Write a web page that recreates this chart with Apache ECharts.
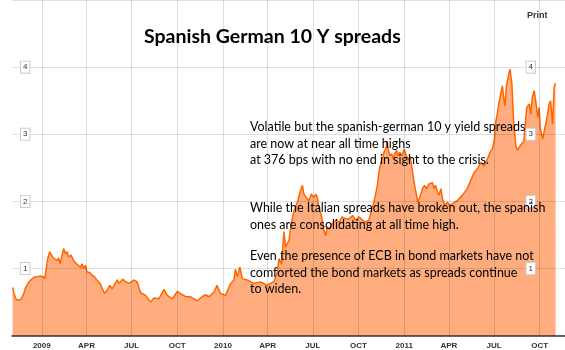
<!DOCTYPE html>
<html>
<head>
<meta charset="utf-8">
<script src="https://cdn.jsdelivr.net/npm/echarts@6/dist/echarts.min.js"></script>
<style>
  html, body { margin: 0; padding: 0; background: #fff; }
  #chart { width: 565px; height: 350px; }
</style>
</head>
<body>
<div id="chart"></div>
<script>
// Spain - Germany 10y spread, in percentage points
const dates = [
  '2008-11-03','2008-11-07','2008-11-11','2008-11-15','2008-11-20','2008-11-26','2008-11-29',
  '2008-12-02','2008-12-06','2008-12-10','2008-12-16','2008-12-23','2008-12-29',
  '2009-01-03','2009-01-07','2009-01-10','2009-01-13','2009-01-17','2009-01-20','2009-01-24','2009-01-27',
  '2009-02-01','2009-02-04','2009-02-07','2009-02-11','2009-02-14','2009-02-18','2009-02-21','2009-02-24',
  '2009-03-01','2009-03-06','2009-03-12','2009-03-16','2009-03-20','2009-03-23','2009-03-27','2009-03-30',
  '2009-04-02','2009-04-08','2009-04-12','2009-04-17','2009-04-22','2009-04-28',
  '2009-05-03','2009-05-07','2009-05-13','2009-05-18','2009-05-23',
  '2009-06-02','2009-06-06','2009-06-13','2009-06-20','2009-06-27',
  '2009-07-05','2009-07-12','2009-07-19','2009-07-29',
  '2009-08-08','2009-08-15','2009-08-25',
  '2009-09-04','2009-09-11','2009-09-21',
  '2009-10-01','2009-10-07','2009-10-18','2009-10-28',
  '2009-11-03','2009-11-10','2009-11-20','2009-11-27',
  '2009-12-04','2009-12-14','2009-12-20','2009-12-27',
  '2010-01-06','2010-01-16','2010-01-23','2010-01-26','2010-01-30',
  '2010-02-04','2010-02-09','2010-02-19',
  '2010-03-04','2010-03-18','2010-03-31',
  '2010-04-14','2010-04-20','2010-04-24','2010-04-29',
  '2010-05-04','2010-05-07','2010-05-14','2010-05-19','2010-05-24','2010-05-31',
  '2010-06-06','2010-06-10','2010-06-13','2010-06-18','2010-06-23','2010-06-28',
  '2010-07-03','2010-07-07','2010-07-10','2010-07-13','2010-07-17','2010-07-20','2010-07-23','2010-07-27','2010-07-30',
  '2010-08-04','2010-08-09','2010-08-16','2010-08-23','2010-08-29',
  '2010-09-05','2010-09-12','2010-09-19','2010-09-25',
  '2010-10-02','2010-10-09','2010-10-15','2010-10-22','2010-10-27',
  '2010-11-01','2010-11-04','2010-11-08','2010-11-11','2010-11-15','2010-11-18','2010-11-21','2010-11-25','2010-11-28','2010-11-30',
  '2010-12-03','2010-12-07','2010-12-10','2010-12-13','2010-12-17','2010-12-19','2010-12-23','2010-12-28',
  '2011-01-01','2011-01-04','2011-01-09','2011-01-13','2011-01-15','2011-01-19','2011-01-22','2011-01-26','2011-01-28','2011-01-31',
  '2011-02-03','2011-02-07','2011-02-11','2011-02-15','2011-02-20','2011-02-23','2011-02-27',
  '2011-03-02','2011-03-05','2011-03-09','2011-03-12','2011-03-16','2011-03-19','2011-03-24','2011-03-29',
  '2011-04-03','2011-04-09','2011-04-18','2011-04-28',
  '2011-05-08','2011-05-15','2011-05-22','2011-05-29',
  '2011-06-04','2011-06-11','2011-06-18','2011-06-23','2011-06-28',
  '2011-07-02','2011-07-04','2011-07-08','2011-07-11','2011-07-15','2011-07-18','2011-07-20','2011-07-23','2011-07-26','2011-07-30',
  '2011-08-02','2011-08-04','2011-08-06','2011-08-08','2011-08-10','2011-08-14','2011-08-17','2011-08-20','2011-08-24','2011-08-30',
  '2011-09-05','2011-09-10','2011-09-13','2011-09-16','2011-09-20','2011-09-23','2011-09-27','2011-09-30',
  '2011-10-02','2011-10-07','2011-10-10','2011-10-13','2011-10-17','2011-10-20','2011-10-23','2011-10-27','2011-10-30',
  '2011-11-02'
];

const spreads = [
  0.72,0.60,0.53,0.51,0.54,0.63,0.71,
  0.75,0.80,0.83,0.87,0.88,0.89,
  0.88,0.85,1.00,1.15,1.25,1.21,1.16,1.17,
  1.12,1.16,1.07,1.20,1.30,1.22,1.25,1.17,
  1.20,1.12,1.07,1.05,1.02,1.07,1.00,1.05,
  0.95,0.94,0.90,0.88,0.83,0.78,
  0.70,0.63,0.68,0.75,0.70,
  0.83,0.78,0.84,0.80,0.78,
  0.83,0.80,0.64,0.60,
  0.50,0.56,0.55,
  0.69,0.60,0.55,
  0.66,0.63,0.58,0.58,
  0.55,0.52,0.58,0.61,
  0.58,0.65,0.75,0.63,
  0.60,0.77,0.83,0.99,0.88,
  1.02,0.85,0.83,
  0.78,0.80,0.75,
  0.81,0.93,1.15,1.07,
  1.55,1.32,1.42,1.69,1.86,1.99,
  2.16,2.24,2.11,2.06,2.01,2.11,
  2.06,2.11,2.06,1.91,1.82,1.72,1.57,1.49,1.62,
  1.59,1.67,1.72,1.69,1.77,
  1.74,1.74,1.79,1.72,
  1.77,1.72,1.69,1.72,1.86,
  1.99,2.09,2.24,2.43,2.58,2.63,2.73,2.78,2.90,2.78,
  2.68,2.71,2.63,2.71,2.76,2.68,2.73,2.68,
  2.78,2.71,2.61,2.68,2.58,2.38,2.24,2.09,1.99,2.04,
  2.09,2.19,2.24,2.19,2.26,2.24,2.28,
  2.19,2.24,2.14,2.09,2.19,2.04,1.94,1.99,
  1.94,1.97,2.01,2.09,
  2.19,2.31,2.43,2.49,
  2.58,2.53,2.64,2.73,2.79,
  2.93,3.17,3.32,3.47,3.62,3.72,3.57,3.42,3.72,3.87,
  3.97,3.99,3.76,3.42,3.13,2.83,2.76,2.80,2.81,2.90,
  3.40,3.45,3.30,3.55,3.65,3.50,3.25,3.40,
  3.10,2.93,2.95,3.15,3.30,3.45,3.50,3.15,3.69,
  3.76
];

const quarterTicks = [
  '2009-01-01','2009-04-01','2009-07-01','2009-10-01',
  '2010-01-01','2010-04-01','2010-07-01','2010-10-01',
  '2011-01-01','2011-04-01','2011-07-01','2011-10-01'
];
const quarterNames = ['', 'APR', 'JUL', 'OCT'];

const noteLines1 = [
  'Volatile but the spanish-german 10 y yield spreads',
  'are now at near all time highs',
  'at 376 bps with no end in sight to the crisis.'
];
const noteLines2 = [
  'While the Italian spreads have broken out, the spanish',
  'ones are consolidating at all time high.'
];
const noteLines3 = [
  'Even the presence of ECB in bond markets have not',
  'comforted the bond markets as spreads continue',
  'to widen.'
];

const toTime = s => {
  const p = s.split('-').map(Number);
  return Date.UTC(p[0], p[1] - 1, p[2]);
};

const chart = echarts.init(document.getElementById('chart'), null, { renderer: 'canvas' });

const yLabel = {
  inside: true,
  fontSize: 8,
  fontFamily: 'Liberation Sans',
  color: '#333',
  backgroundColor: '#fff',
  borderColor: '#ccc',
  borderWidth: 1,
  padding: [2, 2, 1, 2],
  showMinLabel: false,
  showMaxLabel: false
};

const noteStyle = {
  font: '12.5px Lato',
  fill: '#000',
  lineHeight: 16.5
};

const tickTimes = quarterTicks.map(toTime);

chart.setOption({
  animation: false,
  backgroundColor: '#fff',
  title: {
    text: 'Spanish German 10 Y spreads',
    left: 139,
    top: 22,
    textStyle: { fontFamily: 'Lato', fontWeight: 'bold', fontSize: 19.5, color: '#000' }
  },
  grid: { left: 12, right: 0, top: -1.3, bottom: 14.3 },
  xAxis: {
    type: 'value',
    min: toTime('2008-11-02'),
    max: toTime('2011-11-21'),
    z: 10,
    axisLine: { lineStyle: { color: '#333', width: 1.5 } },
    axisTick: { show: false, customValues: tickTimes },
    axisLabel: {
      customValues: tickTimes,
      margin: 6,
      fontSize: 8,
      fontWeight: 'bold',
      fontFamily: 'Liberation Sans',
      color: '#333',
      formatter: v => {
        const d = new Date(v);
        const m = d.getUTCMonth();
        return m === 0 ? String(d.getUTCFullYear()) : quarterNames[m / 3];
      }
    },
    splitLine: { show: true, lineStyle: { color: 'rgba(0,0,0,0.13)', width: 1 } }
  },
  yAxis: [
    {
      type: 'value',
      min: 0,
      max: 5,
      interval: 1,
      z: 10,
      axisLine: { show: false },
      axisTick: { show: false },
      axisLabel: Object.assign({ margin: 9 }, yLabel),
      splitLine: { lineStyle: { color: 'rgba(0,0,0,0.12)', width: 1 } }
    },
    {
      type: 'value',
      position: 'right',
      min: 0,
      max: 5,
      interval: 1,
      z: 10,
      axisLine: { show: false },
      axisTick: { show: false },
      axisLabel: Object.assign({ margin: 30 }, yLabel),
      splitLine: { show: false }
    }
  ],
  series: [
    {
      type: 'line',
      data: dates.map((d, i) => [toTime(d), spreads[i]]),
      showSymbol: false,
      lineStyle: { color: '#ff6600', width: 1.5 },
      itemStyle: { color: '#ff6600' },
      areaStyle: { color: '#ffad7e', opacity: 1 }
    }
  ],
  graphic: [
    { type: 'text', left: 527, top: 11, z: 20, style: { text: 'Print', font: 'bold 9px "Liberation Sans"', fill: '#333' } },
    { type: 'text', left: 250, top: 119, z: 20, style: Object.assign({ text: noteLines1.join('\n') }, noteStyle) },
    { type: 'text', left: 250, top: 200, z: 20, style: Object.assign({ text: noteLines2.join('\n') }, noteStyle) },
    { type: 'text', left: 250, top: 248, z: 20, style: Object.assign({ text: noteLines3.join('\n') }, noteStyle) }
  ]
});
</script>
</body>
</html>
